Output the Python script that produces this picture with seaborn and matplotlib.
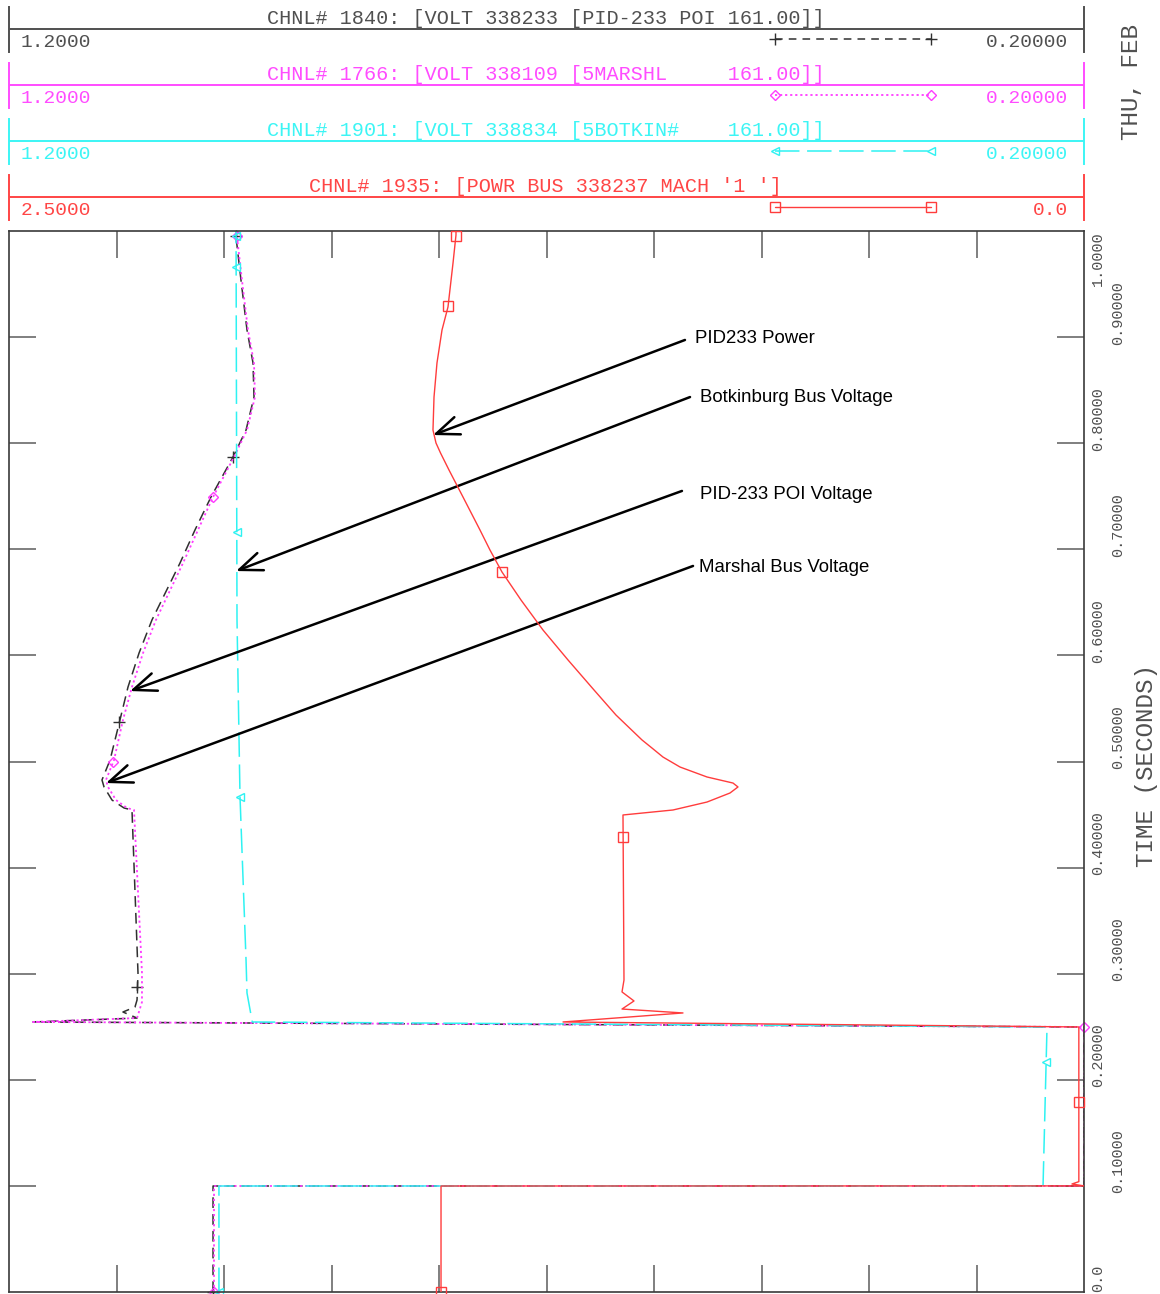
import matplotlib
matplotlib.use("Agg")
import matplotlib.pyplot as plt
import matplotlib.transforms as mtransforms
import numpy as np
import seaborn as sns


# Channel header data
# -------------------
chnl_titles = [
    "CHNL# 1840: [VOLT 338233 [PID-233 POI 161.00]]",
    "CHNL# 1766: [VOLT 338109 [5MARSHL     161.00]]",
    "CHNL# 1901: [VOLT 338834 [5BOTKIN#    161.00]]",
    "CHNL# 1935: [POWR BUS 338237 MACH '1 ']",
]
scale_left = ["1.2000", "1.2000", "1.2000", "2.5000"]
scale_right = ["0.20000", "0.20000", "0.20000", "0.0"]
volt_range = (1.2, 0.2)
powr_range = (2.5, 0.0)

time_ticks = [0.0, 0.1, 0.2, 0.3, 0.4, 0.5, 0.6, 0.7, 0.8, 0.9, 1.0]
time_labels = ["0.0", "0.10000", "0.20000", "0.30000", "0.40000", "0.50000",
               "0.60000", "0.70000", "0.80000", "0.90000", "1.0000"]
volt_ticks = [1.1, 1.0, 0.9, 0.8, 0.7, 0.6, 0.5, 0.4, 0.3]

# PID-233 POI voltage (chnl 1840)
poi_time = [0.0, 0.0999, 0.1, 0.2498, 0.2545, 0.2582, 0.2639, 0.2686, 0.2752,
            0.3007, 0.4543, 0.4562, 0.4637, 0.4760, 0.4826, 0.5014, 0.5391,
            0.5702, 0.6023, 0.6334, 0.6871, 0.7182, 0.7493, 0.7870, 0.8124,
            0.8435, 0.8756, 0.9067, 0.9538, 0.9943, 1.0]
poi_volt = [1.0102, 1.0102, 0.2, 0.2, 1.1777, 1.0809, 1.0940, 1.0828, 1.0809,
            1.0800, 1.0856, 1.0930, 1.1042, 1.1116, 1.1135, 1.1060, 1.0968,
            1.0893, 1.0790, 1.0670, 1.0409, 1.0270, 1.0121, 0.9916, 0.9795,
            0.9721, 0.9730, 0.9786, 0.9842, 0.9888, 0.9888]
poi_marks = [0.0, 0.287, 0.537, 0.787, 0.995]

# Marshal bus voltage (chnl 1766)
mar_time = [0.0, 0.0999, 0.1, 0.2498, 0.2545, 0.2582, 0.2733, 0.3007, 0.4543,
            0.4562, 0.4637, 0.4760, 0.4826, 0.5014, 0.5391, 0.5702, 0.6023,
            0.6334, 0.6871, 0.7182, 0.7493, 0.7870, 0.8124, 0.8435, 0.8756,
            0.9067, 0.9538, 0.9943, 1.0]
mar_volt = [1.0093, 1.0093, 0.2, 0.2, 1.1777, 1.0809, 1.0763, 1.0763, 1.0837,
            1.0902, 1.1005, 1.1079, 1.1098, 1.1023, 1.0940, 1.0856, 1.0753,
            1.0633, 1.0381, 1.0242, 1.0102, 0.9907, 0.9786, 0.9712, 0.9721,
            0.9777, 0.9833, 0.9879, 0.9879]
mar_marks = [0.0, 0.2498, 0.4995, 0.749, 0.995]

# Botkinburg bus voltage (chnl 1901)
bot_time = [0.0, 0.0999, 0.1, 0.2498, 0.2545, 0.2818, 0.3129, 0.4665, 0.6334, 1.0]
bot_volt = [1.0047, 1.0047, 0.2381, 0.2344, 0.9737, 0.9786, 0.9795, 0.9851,
            0.9879, 0.9888]
bot_marks = [0.0, 0.217, 0.467, 0.716, 0.966, 0.995]

# PID233 machine power (chnl 1935)
pwr_time = [0.0, 0.0999, 0.1, 0.1018, 0.104, 0.2498, 0.2545, 0.2630, 0.2667,
            0.2743, 0.2828, 0.2940, 0.4496, 0.4543, 0.4618, 0.4703, 0.4760,
            0.4797, 0.4854, 0.4948, 0.5042, 0.5127, 0.5203, 0.5438, 0.5674,
            0.5957, 0.6239, 0.6522, 0.6786, 0.6993, 0.7182, 0.7493, 0.7747,
            0.7908, 0.8002, 0.8124, 0.8435, 0.8756, 0.9067, 0.9284, 0.9698,
            0.9962, 1.0]
pwr_val = [1.4953, 1.4953, 0.0, 0.028, 0.012, 0.012, 1.2116, 0.9326, 1.0744,
           1.0465, 1.0744, 1.0698, 1.0721, 0.9558, 0.8767, 0.8233, 0.8047,
           0.8163, 0.8767, 0.9395, 0.9791, 1.0047, 1.0279, 1.0884, 1.1395,
           1.2000, 1.2581, 1.3093, 1.3535, 1.3814, 1.4047, 1.4442, 1.4767,
           1.4965, 1.5070, 1.5140, 1.5116, 1.5047, 1.4930, 1.4791, 1.4674,
           1.4605, 1.4605]
pwr_marks = [0.0, 0.179, 0.429, 0.679, 0.929, 0.995]

# Annotation text and where the arrows point (value, time)
notes = [
    ("PID233 Power", "pwr", (0.928, 0.8973), (1.514, 0.8077), (0.9047, 0.8991)),
    ("Botkinburg Bus Voltage", "volt", (0.5665, 0.8435), (0.9888, 0.6795), (0.5572, 0.8435)),
    ("PID-233 POI Voltage", "volt", (0.5740, 0.7550), (1.0874, 0.5664), (0.5572, 0.7521)),
    ("Marshal Bus Voltage", "volt", (0.5637, 0.6843), (1.1098, 0.4797), (0.5581, 0.6824)),
]

# styles per channel: colour, text colour, linestyle, marker
GRAY = "#505050"
styles = [
    dict(color="#303030", text="#505050", ls=(0, (7, 4)), lw=1.1, marker="+", ms=8),
    dict(color="#ff3cff", text="#ff4cff", ls=(0, (1.2, 1.6)), lw=1.3, marker="D", ms=5),
    dict(color="#2ef2f2", text="#3cf5f5", ls=(0, (16, 5)), lw=1.1, marker="<", ms=6),
    dict(color="#ff3c3c", text="#ff4545", ls="-", lw=1.0, marker="s", ms=6.5),
]

W, H = 1160, 1294
sns.set_style("white")
plt.rcParams["font.family"] = ["Liberation Mono", "DejaVu Sans Mono"]

fig = plt.figure(figsize=(W / 100, H / 100), dpi=100)

# ---- header bands -------------------------------------------------------
for k in range(4):
    st = styles[k]
    edge = GRAY if k == 0 else st["text"]
    hax = fig.add_axes([9 / W, (H - 52 - 56 * k) / H, 1075 / W, 45 / H])
    hax.set_xlim(0, 1)
    hax.set_ylim(0, 1)
    hax.set_xticks([])
    hax.set_yticks([])
    hax.patch.set_alpha(0)
    for side in ["top", "bottom"]:
        hax.spines[side].set_visible(False)
    for side in ["left", "right"]:
        hax.spines[side].set_color(edge)
        hax.spines[side].set_linewidth(1.4)
    hax.axhline(0.511, color=edge, lw=1.4)
    hax.text(0.499, 0.74, chnl_titles[k], color=st["text"], fontsize=14.5,
             ha="center", va="center")
    hax.text(0.0105, 0.22, scale_left[k], color=st["text"], fontsize=14,
             ha="left", va="center")
    hax.text(0.985, 0.22, scale_right[k], color=st["text"], fontsize=14,
             ha="right", va="center")
    leg_ls = (0, (5, 4)) if k == 0 else st["ls"]
    hax.plot([0.7126, 0.8577], [0.29, 0.29], color=st["color"], ls=leg_ls,
             lw=st["lw"], marker=st["marker"], ms=st["ms"], mfc="none",
             mec=st["color"], mew=1.0, clip_on=False)

# ---- main plot ----------------------------------------------------------
ax = fig.add_axes([9 / W, (H - 1292) / H, 1075 / W, 1061 / H])
ax.set_xlim(*volt_range)
ax.set_ylim(0, 1.0)
ax2 = ax.twiny()
ax2.set_xlim(*powr_range)
ax2.set_xticks([])
for side in ax2.spines:
    ax2.spines[side].set_visible(False)

series = [
    (ax, poi_time, poi_volt, poi_marks, styles[0]),
    (ax, mar_time, mar_volt, mar_marks, styles[1]),
    (ax, bot_time, bot_volt, bot_marks, styles[2]),
    (ax2, pwr_time, pwr_val, pwr_marks, styles[3]),
]
for a, t, v, marks, st in series:
    sns.lineplot(x=v, y=t, ax=a, sort=False, estimator=None, color=st["color"],
                 linestyle=st["ls"], lw=st["lw"])
    a.plot(np.interp(marks, t, v), marks, ls="none", marker=st["marker"],
           ms=st["ms"], mfc="none", mec=st["color"], mew=1.0, clip_on=False)

ax.set_xticks(volt_ticks)
ax.set_yticks(time_ticks[1:-1])
ax.tick_params(axis="both", which="both", direction="in", length=19.5,
               width=1.2, color="#6a6a6a", labelleft=False, labelbottom=False,
               top=True, right=True, bottom=True, left=True)
for side in ax.spines:
    ax.spines[side].set_color("#3a3a3a")
    ax.spines[side].set_linewidth(1.2)
ax.set_xlabel("")
ax.set_ylabel("")

# time labels on the right, staggered like the original plot
trans = mtransforms.blended_transform_factory(fig.transFigure, ax.transData)
for i, (tv, lab) in enumerate(zip(time_ticks, time_labels)):
    xpos = 1098 / W if i % 2 == 0 else 1118 / W
    if i == len(time_ticks) - 1:
        ypos, va = tv, "top"
    elif i == 0:
        ypos, va = tv, "bottom"
    else:
        ypos, va = tv - 0.007, "bottom"
    ax.text(xpos, ypos, lab, transform=trans, rotation=90, ha="center", va=va,
            fontsize=11, color=GRAY, clip_on=False)

ax.text(1147 / W, 0.4967, "TIME (SECONDS)", transform=trans, rotation=90,
        ha="center", va="center", fontsize=17.5, color=GRAY, clip_on=False)
# the date stamp runs off the top of the page in the original; keep what fits
fig.text(1131 / W, (H - 140) / H, "THU, FEB", rotation=90, ha="center",
         va="bottom", fontsize=17.5, color=GRAY)

# ---- annotations --------------------------------------------------------
for label, kind, start, tip, txt in notes:
    a = ax2 if kind == "pwr" else ax
    a.annotate("", xy=tip, xytext=start,
               arrowprops=dict(arrowstyle="->,head_length=0.75,head_width=0.3",
                               color="black", lw=1.8, mutation_scale=22,
                               shrinkA=0, shrinkB=0))
    a.text(txt[0], txt[1], label, fontsize=13.4, family="Liberation Sans",
           ha="left", va="center", color="black")

fig.savefig("out.png", dpi=100)
